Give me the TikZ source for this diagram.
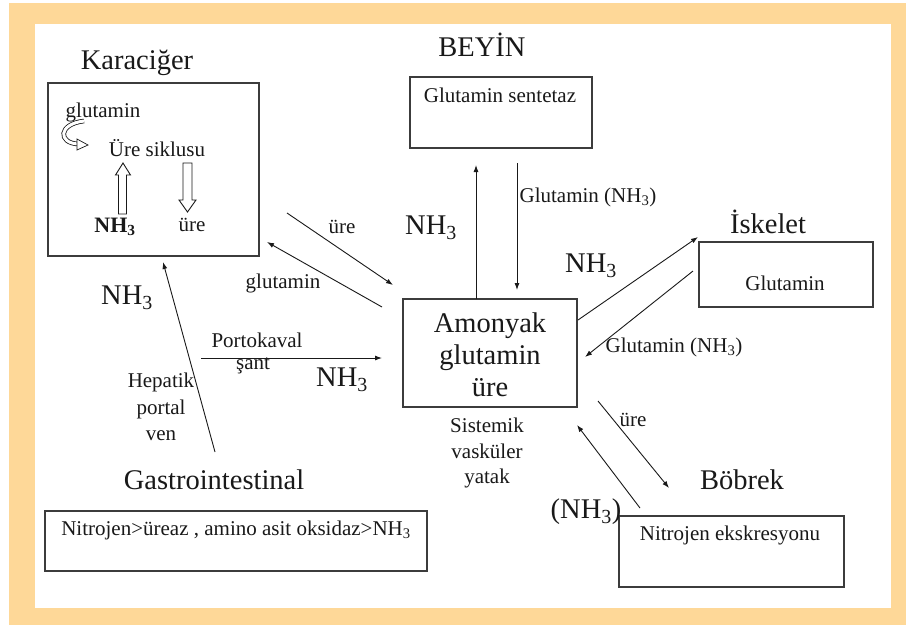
\documentclass[tikz,border=0pt]{standalone}
\usepackage{fontspec}
\setmainfont{Liberation Serif}
\newfontfamily\tnr{Liberation Serif}
\usetikzlibrary{arrows.meta}
\definecolor{framecol}{RGB}{254,216,152}
\definecolor{ink}{RGB}{25,25,25}
\definecolor{boxline}{RGB}{60,60,60}
\begin{document}
\begin{tikzpicture}[x=1pt,y=-1pt,
  box/.style={draw=boxline, line width=1.1pt, inner sep=0pt, minimum width=#1},
  bigtxt/.style={font=\tnr\fontsize{28.5}{32}\selectfont, inner sep=0pt, text=ink, align=center},
  smalltxt/.style={font=\tnr\fontsize{21}{26}\selectfont, inner sep=0pt, text=ink, align=center},
  arr/.style={draw=ink, line width=0.9pt, -{Latex[length=7pt,width=5pt]}},
  hollow/.style={draw=ink, line width=0.9pt, fill=white}
]
\useasboundingbox (0,0) rectangle (906,625);
\fill[white] (0,0) rectangle (906,625);
\fill[framecol] (9,3) rectangle (906,625);
\fill[white] (35,24) rectangle (891,608);

% boxes
\node[box=211pt, minimum height=173pt] (kbox) at (153.5,169.5) {};
\node[box=182pt, minimum height=71pt] (bbox) at (501,112.5) {};
\node[box=174pt, minimum height=108pt] (abox) at (490,353) {};
\node[box=174pt, minimum height=65pt] (ibox) at (786,274.5) {};
\node[box=382pt, minimum height=60pt] (gbox) at (236,541) {};
\node[box=225pt, minimum height=71pt] (nbox) at (731.5,551.5) {};

% titles
\node[bigtxt] (tkar) at (137,63) {Karaciğer};
\node[bigtxt] (tbey) at (482,45) {BEYİN};
\node[bigtxt] (tisk) at (768,222) {İskelet};
\node[bigtxt] (tbob) at (742,480) {Böbrek};
\node[bigtxt] (tgas) at (214,480) {Gastrointestinal};

% central box text
\node[bigtxt] (atext) at (490,355) {Amonyak\\glutamin\\üre};
\node[smalltxt, font=\tnr\fontsize{21}{25.5}\selectfont] (svy) at (487,453) {Sistemik\\vasküler\\yatak};

% NH3 labels
\node[bigtxt] (nh1) at (431,228) {NH\textsubscript{3}};
\node[bigtxt] (nh2) at (591,266) {NH\textsubscript{3}};
\node[bigtxt] (nh3) at (127,298) {NH\textsubscript{3}};
\node[bigtxt] (nh4) at (342,380) {NH\textsubscript{3}};
\node[bigtxt] (nh5) at (586,512) {(NH\textsubscript{3})};

% box contents
\node[smalltxt] (gsent) at (500,95) {Glutamin sentetaz};
\node[smalltxt] (iglut) at (785,283) {Glutamin};
\node[smalltxt] (gitext) at (236,530) {Nitrojen>üreaz , amino asit oksidaz>NH\textsubscript{3}};
\node[smalltxt] (ntext) at (730,535) {Nitrojen ekskresyonu};
\node[smalltxt] (kglut) at (103,112) {glutamin};
\node[smalltxt] (ksik) at (157,148) {Üre siklusu};
\node[smalltxt, font=\tnr\bfseries\fontsize{22}{26}\selectfont] (knh) at (115,227) {NH\textsubscript{3}};
\node[smalltxt] (kure) at (192,225) {üre};

% arrow labels
\node[smalltxt] (lg1) at (588,197) {Glutamin (NH\textsubscript{3})};
\node[smalltxt] (lg2) at (674,347) {Glutamin (NH\textsubscript{3})};
\node[smalltxt] (lure1) at (342,227) {üre};
\node[smalltxt] (lglut) at (283,283) {glutamin};
\node[smalltxt] (lport) at (257,340) {Portokaval};
\node[smalltxt] (lsant) at (253,366) {şant};
\node[smalltxt, font=\tnr\fontsize{21}{26.5}\selectfont] (lhep) at (161,407) {Hepatik\\portal\\ven};
\node[smalltxt] (lure2) at (633,420) {üre};

% connector end points
\coordinate (bu1) at (476,299); \coordinate (bu2) at (476,165);
\coordinate (bd1) at (517,163); \coordinate (bd2) at (517,290);
\coordinate (io1) at (578,320); \coordinate (io2) at (698,237);
\coordinate (ii1) at (693,271); \coordinate (ii2) at (585,357);
\coordinate (ku1) at (287,213); \coordinate (ku2) at (393,285);
\coordinate (kg1) at (382,307); \coordinate (kg2) at (267,242);
\coordinate (hp1) at (215,452); \coordinate (hp2) at (163,262);
\coordinate (pk1) at (201,358); \coordinate (pk2) at (382,358);
\coordinate (nu1) at (598,401); \coordinate (nu2) at (669,488);
\coordinate (nn1) at (640,508); \coordinate (nn2) at (577,425);

\draw[arr] (bu1) -- (bu2);
\draw[arr] (bd1) -- (bd2);
\draw[arr] (io1) -- (io2);
\draw[arr] (ii1) -- (ii2);
\draw[arr] (ku1) -- (ku2);
\draw[arr] (kg1) -- (kg2);
\draw[arr] (hp1) -- (hp2);
\draw[arr] (pk1) -- (pk2);
\draw[arr] (nu1) -- (nu2);
\draw[arr] (nn1) -- (nn2);

% hollow block arrows in liver
\draw[hollow] (123,163) -- (130.5,175) -- (126.5,175) -- (126.5,214) -- (118.5,214) -- (118.5,175) -- (115.5,175) -- cycle;
\draw[hollow] (187.5,212) -- (196,200) -- (192,200) -- (192,163) -- (183,163) -- (183,200) -- (179,200) -- cycle;

% curly hollow arrow
\draw[draw=ink, line width=0.8pt, double=white, double distance=3pt]
  (84,121) .. controls (58,124) and (58,143) .. (78,144);
\draw[hollow, line width=0.7pt] (77,139) -- (88,145) -- (77,150) -- cycle;
\end{tikzpicture}
\end{document}
